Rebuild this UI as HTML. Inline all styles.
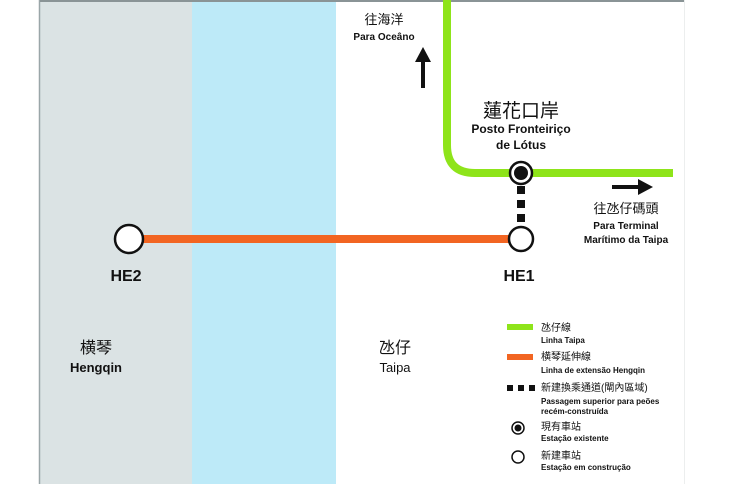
<!DOCTYPE html>
<html><head><meta charset="utf-8"><style>
body{margin:0;width:750px;height:484px;overflow:hidden;background:#fff}
svg{display:block}
text{font-family:"Liberation Sans","Noto Sans CJK TC",sans-serif;fill:#111}
</style></head><body>
<svg width="750" height="484" viewBox="0 0 750 484">
<rect x="40" y="0" width="152" height="484" fill="#dbe3e4"/>
<rect x="192" y="0" width="144" height="484" fill="#bdeaf8"/>
<line x1="39.5" y1="0" x2="39.5" y2="484" stroke="#9aa6a8" stroke-width="1.5"/>
<line x1="40" y1="1" x2="684" y2="1" stroke="#8a9496" stroke-width="2"/>
<line x1="684.5" y1="0" x2="684.5" y2="484" stroke="#eceeee" stroke-width="1"/>
<path d="M447 0 V145 Q447 173 475 173 H673" fill="none" stroke="#8ee41a" stroke-width="8"/>
<line x1="129" y1="239" x2="521" y2="239" stroke="#f26522" stroke-width="8"/>
<rect x="517" y="186" width="8" height="8" fill="#111"/>
<rect x="517" y="200" width="8" height="8" fill="#111"/>
<rect x="517" y="214" width="8" height="8" fill="#111"/>
<circle cx="521" cy="173" r="11" fill="#fff" stroke="#111" stroke-width="2.5"/>
<circle cx="521" cy="173" r="7" fill="#111"/>
<circle cx="521" cy="239" r="12" fill="#fff" stroke="#111" stroke-width="2.5"/>
<circle cx="129" cy="239" r="14" fill="#fff" stroke="#111" stroke-width="2.5"/>
<line x1="423" y1="88" x2="423" y2="58" stroke="#111" stroke-width="4"/>
<path d="M415 62 L423 47 L431 62 Z" fill="#111"/>
<line x1="612" y1="187" x2="642" y2="187" stroke="#111" stroke-width="4"/>
<path d="M638 179 L653 187 L638 195 Z" fill="#111"/>
<g text-anchor="middle">
<text x="384" y="24" font-size="13">往海洋</text>
<text x="384" y="40" font-size="10" font-weight="bold">Para Oceâno</text>
<text x="521" y="117" font-size="19">蓮花口岸</text>
<text x="521" y="133" font-size="12" font-weight="bold">Posto Fronteiriço</text>
<text x="521" y="149" font-size="12" font-weight="bold">de Lótus</text>
<text x="626" y="213" font-size="13">往氹仔碼頭</text>
<text x="626" y="229" font-size="10" font-weight="bold">Para Terminal</text>
<text x="626" y="243" font-size="10" font-weight="bold">Marítimo da Taipa</text>
<text x="126" y="281" font-size="16" font-weight="bold">HE2</text>
<text x="519" y="281" font-size="16" font-weight="bold">HE1</text>
<text x="96" y="353" font-size="16">横琴</text>
<text x="96" y="372" font-size="13" font-weight="bold">Hengqin</text>
<text x="395" y="353" font-size="16">氹仔</text>
<text x="395" y="372" font-size="13">Taipa</text>
</g>
<rect x="507" y="324" width="26" height="6" fill="#8ee41a"/>
<rect x="507" y="354" width="26" height="6" fill="#f26522"/>
<rect x="507" y="385" width="6" height="6" fill="#111"/>
<rect x="518" y="385" width="6" height="6" fill="#111"/>
<rect x="529" y="385" width="6" height="6" fill="#111"/>
<circle cx="518" cy="428" r="6" fill="#fff" stroke="#111" stroke-width="1.5"/>
<circle cx="518" cy="428" r="3.5" fill="#111"/>
<circle cx="518" cy="457" r="6" fill="#fff" stroke="#111" stroke-width="1.5"/>
<g font-size="8">
<text x="541" y="331" font-size="10">氹仔線</text>
<text x="541" y="343" font-weight="bold">Linha Taipa</text>
<text x="541" y="360" font-size="10">横琴延伸線</text>
<text x="541" y="373" font-weight="bold">Linha de extensão Hengqin</text>
<text x="541" y="391" font-size="10">新建換乘通道(閘內區域)</text>
<text x="541" y="404" font-weight="bold">Passagem superior para peões</text>
<text x="541" y="414" font-weight="bold">recém-construída</text>
<text x="541" y="430" font-size="10">現有車站</text>
<text x="541" y="441" font-weight="bold">Estação existente</text>
<text x="541" y="459" font-size="10">新建車站</text>
<text x="541" y="470" font-weight="bold">Estação em construção</text>
</g>
</svg>
</body></html>
